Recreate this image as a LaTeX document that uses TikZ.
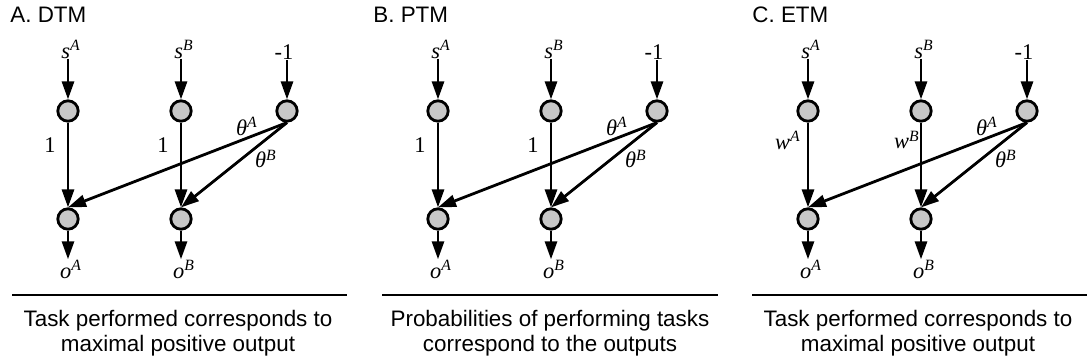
\documentclass[tikz,border=0pt]{standalone}
\usepackage{fontspec}
\setmainfont{Liberation Sans}
\newfontfamily\tms{Liberation Serif}
\usetikzlibrary{arrows.meta}

\newcommand{\vlbl}[2]{{\itshape #1}\textsuperscript{\itshape #2}}

\begin{document}
\begin{tikzpicture}[
    x=0.5pt, y=-0.5pt,
    neuron/.style={circle, draw=black, fill=black!22, line width=1.4pt, minimum size=10.2pt, inner sep=0pt},
    sym/.style={font=\tms\fontsize{11.2}{13}\selectfont, inner sep=0pt},
    arr/.style={line width=1.4pt, -{Triangle[length=9pt, width=6pt]}},
    rule/.style={line width=1.2pt},
    paneltitle/.style={font=\fontsize{11.2}{13}\selectfont, anchor=base west, inner sep=0pt},
    caption/.style={font=\fontsize{11.2}{12.5}\selectfont, align=center, inner sep=0pt}
]
\useasboundingbox (0,0) rectangle (1089,364);

% ==================== A. DTM ====================
\node[paneltitle] (a_title) at (10,22) {A. DTM};
\node[sym, anchor=base] (a_sA) at (71,58) {\vlbl{s}{A}};
\node[sym, anchor=base] (a_sB) at (184,58) {\vlbl{s}{B}};
\node[sym, anchor=base] (a_m1) at (284,60) {-1};
\node[neuron] (a_hA) at (68,111) {};
\node[neuron] (a_hB) at (181,111) {};
\node[neuron] (a_bias) at (287,111) {};
\node[neuron] (a_yA) at (68,219) {};
\node[neuron] (a_yB) at (181,219) {};
\node[sym, anchor=base] (a_oA) at (71,278) {\vlbl{o}{A}};
\node[sym, anchor=base] (a_oB) at (184,278) {\vlbl{o}{B}};
\node[sym] (a_wA) at (50,145) {1};
\node[sym] (a_wB) at (163,145) {1};
\node[sym] (a_thA) at (247,126) {\vlbl{θ}{A}};
\node[sym] (a_thB) at (266,159) {\vlbl{θ}{B}};

\draw[arr] (a_sA.south -| a_hA) -- (a_hA);
\draw[arr] (a_sB.south -| a_hB) -- (a_hB);
\draw[arr] (a_m1.south -| a_bias) -- (a_bias);
\draw[arr] (a_hA) -- (a_yA);
\draw[arr] (a_hB) -- (a_yB);
\draw[arr] (a_bias.south) -- (a_yA.north);
\draw[arr] (a_bias.south) -- (a_yB.north);
\draw[arr] (a_yA) -- (a_oA.north -| a_yA);
\draw[arr] (a_yB) -- (a_oB.north -| a_yB);

\draw[rule] (12,295) -- (347,295);
\node[caption] (a_cap) at (178,333) {Task performed corresponds to\\maximal positive output};

% ==================== B. PTM ====================
\node[paneltitle] (b_title) at (373,22) {B. PTM};
\node[sym, anchor=base] (b_sA) at (441,58) {\vlbl{s}{A}};
\node[sym, anchor=base] (b_sB) at (554,58) {\vlbl{s}{B}};
\node[sym, anchor=base] (b_m1) at (654,60) {-1};
\node[neuron] (b_hA) at (438,111) {};
\node[neuron] (b_hB) at (551,111) {};
\node[neuron] (b_bias) at (657,111) {};
\node[neuron] (b_yA) at (438,219) {};
\node[neuron] (b_yB) at (551,219) {};
\node[sym, anchor=base] (b_oA) at (441,278) {\vlbl{o}{A}};
\node[sym, anchor=base] (b_oB) at (554,278) {\vlbl{o}{B}};
\node[sym] (b_wA) at (420,145) {1};
\node[sym] (b_wB) at (533,145) {1};
\node[sym] (b_thA) at (617,126) {\vlbl{θ}{A}};
\node[sym] (b_thB) at (636,159) {\vlbl{θ}{B}};

\draw[arr] (b_sA.south -| b_hA) -- (b_hA);
\draw[arr] (b_sB.south -| b_hB) -- (b_hB);
\draw[arr] (b_m1.south -| b_bias) -- (b_bias);
\draw[arr] (b_hA) -- (b_yA);
\draw[arr] (b_hB) -- (b_yB);
\draw[arr] (b_bias.south) -- (b_yA.north);
\draw[arr] (b_bias.south) -- (b_yB.north);
\draw[arr] (b_yA) -- (b_oA.north -| b_yA);
\draw[arr] (b_yB) -- (b_oB.north -| b_yB);

\draw[rule] (382,295) -- (718,295);
\node[caption] (b_cap) at (550,333) {Probabilities of performing tasks\\correspond to the outputs};

% ==================== C. ETM ====================
\node[paneltitle] (c_title) at (752,22) {C. ETM};
\node[sym, anchor=base] (c_sA) at (811,58) {\vlbl{s}{A}};
\node[sym, anchor=base] (c_sB) at (924,58) {\vlbl{s}{B}};
\node[sym, anchor=base] (c_m1) at (1024,60) {-1};
\node[neuron] (c_hA) at (808,111) {};
\node[neuron] (c_hB) at (921,111) {};
\node[neuron] (c_bias) at (1027,111) {};
\node[neuron] (c_yA) at (808,219) {};
\node[neuron] (c_yB) at (921,219) {};
\node[sym, anchor=base] (c_oA) at (811,278) {\vlbl{o}{A}};
\node[sym, anchor=base] (c_oB) at (924,278) {\vlbl{o}{B}};
\node[sym] (c_wA) at (788,140) {\vlbl{w}{A}};
\node[sym] (c_wB) at (907,140) {\vlbl{w}{B}};
\node[sym] (c_thA) at (987,126) {\vlbl{θ}{A}};
\node[sym] (c_thB) at (1006,159) {\vlbl{θ}{B}};

\draw[arr] (c_sA.south -| c_hA) -- (c_hA);
\draw[arr] (c_sB.south -| c_hB) -- (c_hB);
\draw[arr] (c_m1.south -| c_bias) -- (c_bias);
\draw[arr] (c_hA) -- (c_yA);
\draw[arr] (c_hB) -- (c_yB);
\draw[arr] (c_bias.south) -- (c_yA.north);
\draw[arr] (c_bias.south) -- (c_yB.north);
\draw[arr] (c_yA) -- (c_oA.north -| c_yA);
\draw[arr] (c_yB) -- (c_oB.north -| c_yB);

\draw[rule] (752,295) -- (1087,295);
\node[caption] (c_cap) at (918,333) {Task performed corresponds to\\maximal positive output};

\end{tikzpicture}
\end{document}
